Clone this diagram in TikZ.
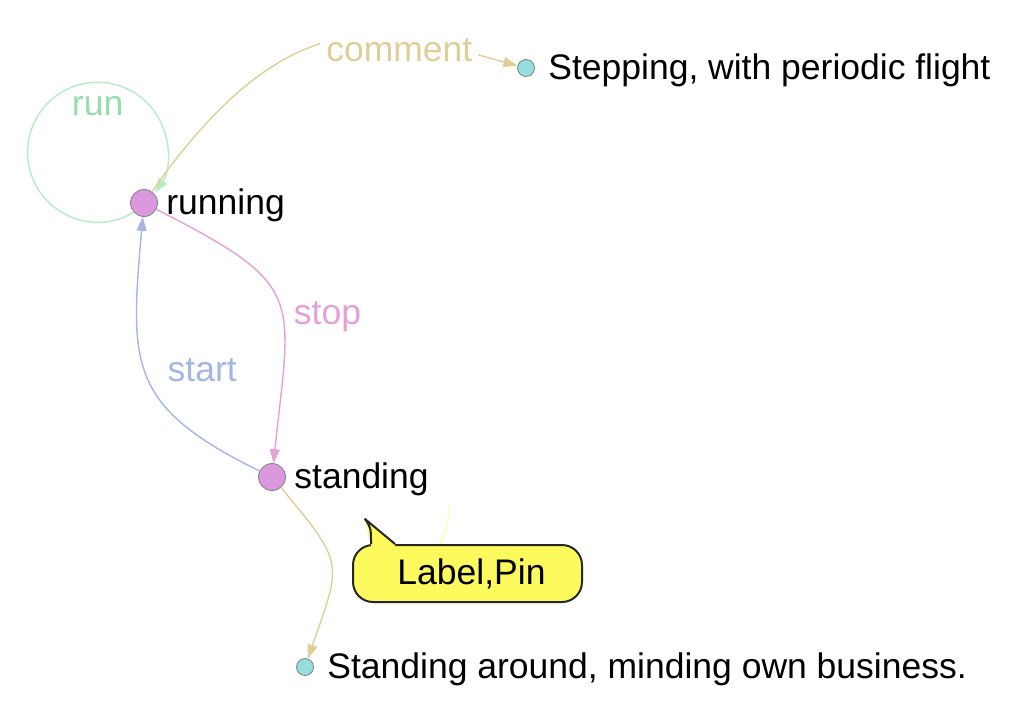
\documentclass[tikz,border=0pt]{standalone}
\usepackage{fontspec}
\setmainfont{Liberation Sans}
\usetikzlibrary{positioning,arrows.meta}
\definecolor{vpink}{RGB}{220,152,222}
\definecolor{vcyan}{RGB}{148,222,222}
\definecolor{cgreen}{RGB}{150,222,172}
\definecolor{cgreenline}{RGB}{180,236,196}
\definecolor{ctan}{RGB}{224,206,152}
\definecolor{cpink}{RGB}{228,160,216}
\definecolor{cblue}{RGB}{164,182,228}
\definecolor{pinyellow}{RGB}{252,250,92}
\tikzset{
    vertex/.style = {
        draw=gray,
        fill=vpink,
        shape=circle,
        minimum size=13.5pt,
        inner sep=0pt,
        line width=0.4pt
    },
    leaf/.style = {
        draw=gray,
        fill=vcyan,
        shape=circle,
        minimum size=8.5pt,
        inner sep=0pt,
        line width=0.4pt
    },
    vlabel/.style = {
        font=\fontsize{17.75pt}{21pt}\selectfont,
        inner sep=1pt,
        yshift=-1.2pt
    },
    elabel/.style = {
        font=\fontsize{17.75pt}{21pt}\selectfont,
        inner sep=1pt
    },
    link/.style = {
        ->,
        line width=0.7pt
    },
    pinbox/.style = {
        draw=black!85,
        fill=pinyellow,
        rounded corners=10pt,
        minimum width=114.5pt,
        minimum height=28.5pt,
        line width=1pt,
        font=\fontsize{17.75pt}{21pt}\selectfont
    },
    >={Triangle[length=7pt,width=5pt]},
}
\begin{document}
\begin{tikzpicture}[x=0.5pt,y=0.5pt]
            \useasboundingbox (0,0) rectangle (1020,714);
            \node[vertex] (run) at (144,511) {};
            \node[vertex] (stand) at (272,237) {};
            \node[leaf] (flight) at (526,646) {};
            \node[leaf] (idle) at (305,47) {};
            \node[vlabel, right=10pt of run.center] (runtext) {running};
            \node[vlabel, right=10pt of stand.center] (standtext) {standing};
            \node[vlabel, right=10pt of flight.center] (flighttext) {Stepping, with periodic flight};
            \node[vlabel, right=10pt of idle.center] (idletext) {Standing around, minding own business.};

            \path[draw, link, cgreenline] (run.-138) arc[start angle=-59, delta angle=-336, radius=70]
                node[elabel, text=cgreen, pos=0.628, below=5.5pt] {run};
            \path[draw, link, ctan] (run) .. controls +(55:270) and +(165:130) .. (flight)
                node[elabel, text=ctan, fill=white, inner sep=3pt, pos=0.655, yshift=-6.5pt] {comment};
            \path[draw, link, cpink] (run) to[out=-27, in=84, looseness=1.55]
                node[elabel, text=cpink, pos=0.57, right=4.5pt] {stop} (stand);
            \path[draw, link, cblue] (stand) to[out=154, in=-95, looseness=1.35]
                node[elabel, text=cblue, pos=0.52, right=10pt] {start} (run);
            \path[draw, link, ctan] (stand) to[out=-50, in=71, looseness=1.5] (idle);

            \node[pinbox] (pin) at (467.5,140.5) {\hspace{4pt}Label,Pin};
            \coordinate (pintip) at (365,195);
            \coordinate (pinend) at (450,209);
            \fill[pinyellow] ([xshift=9.5pt]pin.north west) -- (pintip) -- ([xshift=21.5pt]pin.north west)
                -- ([xshift=21.5pt,yshift=-2pt]pin.north west) -- ([xshift=9.5pt,yshift=-2pt]pin.north west) -- cycle;
            \draw[black!85, line width=1pt, line join=round] ([xshift=9.5pt]pin.north west)
                .. controls +(0pt,8pt) .. (pintip) -- ([xshift=21.5pt]pin.north west);
            \draw[pinyellow!60, line width=0.5pt] (pinend) to[bend left=8] ([xshift=-13.5pt]pin.north);
        \end{tikzpicture}
\end{document}
